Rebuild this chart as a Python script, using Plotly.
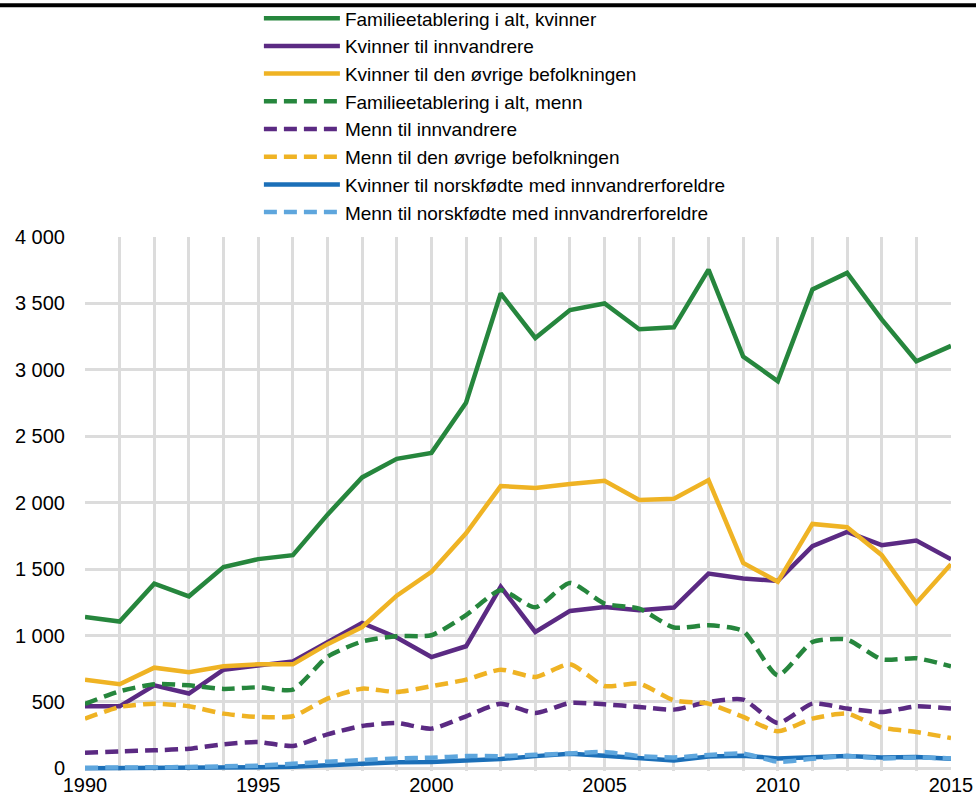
import plotly.graph_objects as go

years = list(range(1990, 2016))

fam_kvinner = [1140, 1105, 1390, 1295, 1515, 1575, 1605, 1910, 2190, 2330, 2375, 2752, 3575, 3240, 3450, 3500, 3305, 3320, 3755, 3100, 2915, 3605, 3730, 3380, 3065, 3180]
kvinner_innv = [467, 467, 625, 563, 743, 770, 805, 950, 1095, 985, 838, 919, 1366, 1027, 1185, 1215, 1190, 1210, 1466, 1429, 1411, 1672, 1780, 1680, 1715, 1574]
kvinner_ovrige = [668, 633, 758, 723, 768, 783, 783, 935, 1064, 1300, 1480, 1770, 2125, 2110, 2140, 2165, 2020, 2030, 2170, 1547, 1404, 1840, 1815, 1605, 1245, 1537]
fam_menn = [485, 580, 633, 625, 598, 610, 593, 840, 955, 995, 1002, 1153, 1341, 1212, 1396, 1240, 1203, 1060, 1077, 1034, 700, 951, 969, 821, 829, 768]
menn_innv = [118, 128, 136, 148, 181, 198, 168, 256, 319, 341, 299, 392, 487, 417, 492, 482, 462, 442, 500, 517, 341, 487, 450, 424, 467, 450]
menn_ovrige = [374, 462, 487, 467, 412, 387, 392, 525, 600, 575, 618, 668, 743, 688, 783, 620, 638, 512, 487, 387, 279, 374, 412, 306, 274, 228]
kvinner_norsk = [0, 0, 2, 3, 5, 8, 12, 22, 38, 45, 48, 55, 70, 92, 110, 95, 80, 60, 90, 95, 75, 80, 92, 82, 85, 72]
menn_norsk = [5, 6, 8, 10, 15, 20, 35, 50, 62, 75, 80, 92, 92, 102, 112, 123, 92, 82, 100, 110, 50, 72, 92, 75, 82, 75]

series = [
    ("Familieetablering i alt, kvinner", fam_kvinner, "#26863d", "solid"),
    ("Kvinner til innvandrere", kvinner_innv, "#5b2a83", "solid"),
    ("Kvinner til den øvrige befolkningen", kvinner_ovrige, "#efb324", "solid"),
    ("Familieetablering i alt, menn", fam_menn, "#26863d", "dash"),
    ("Menn til innvandrere", menn_innv, "#5b2a83", "dash"),
    ("Menn til den øvrige befolkningen", menn_ovrige, "#efb324", "dash"),
    ("Kvinner til norskfødte med innvandrerforeldre", kvinner_norsk, "#1b6fb8", "solid"),
    ("Menn til norskfødte med innvandrerforeldre", menn_norsk, "#5ea6dd", "dash"),
]

fig = go.Figure()
for name, vals, color, style in series:
    if style == "solid":
        line = dict(color=color, width=4.5)
    else:
        line = dict(color=color, width=4.5, dash="13px,7px", shape="spline", smoothing=0.6)
    fig.add_trace(go.Scatter(x=years, y=vals, name=name, mode="lines", line=line))

grid = "#dcdcdc"
fig.update_layout(
    width=976, height=796,
    margin=dict(l=85, r=25, t=237, b=25, autoexpand=False),
    paper_bgcolor="white", plot_bgcolor="white",
    separators=", ",
    font=dict(family="Liberation Sans, Arial, sans-serif", color="black"),
    showlegend=True,
    legend=dict(
        x=0.2008, xanchor="left", y=1.445, yanchor="top",
        font=dict(size=19, color="black"),
        itemwidth=76, bgcolor="rgba(0,0,0,0)", tracegroupgap=0,
    ),
    xaxis=dict(
        range=[1990, 2015], dtick=5, tick0=1990, showgrid=True, gridcolor=grid, gridwidth=2.5,
        minor=dict(dtick=1, showgrid=True, gridcolor=grid, gridwidth=2.5),
        zeroline=False, showline=False, ticks="", tickfont=dict(size=20), automargin=False,
    ),
    yaxis=dict(
        range=[-20, 4000], tickvals=[0, 500, 1000, 1500, 2000, 2500, 3000, 3500, 4000],
        ticktext=["0", "500", "1 000", "1 500", "2 000", "2 500", "3 000", "3 500", "4 000"],
        showgrid=True, gridcolor=grid, gridwidth=2.5, zeroline=False, showline=False,
        ticks="", tickfont=dict(size=20), ticklabelstandoff=19, automargin=False,
    ),
)

fig.add_shape(type="line", xref="paper", yref="paper",
              x0=-85 / 866, x1=(976 - 85) / 866,
              y0=(770.65 - 5.5) / 533.65, y1=(770.65 - 5.5) / 533.65,
              line=dict(color="black", width=4))

fig.write_html("out.html", config={"displayModeBar": False},
               post_script="document.body.style.margin='0';")
